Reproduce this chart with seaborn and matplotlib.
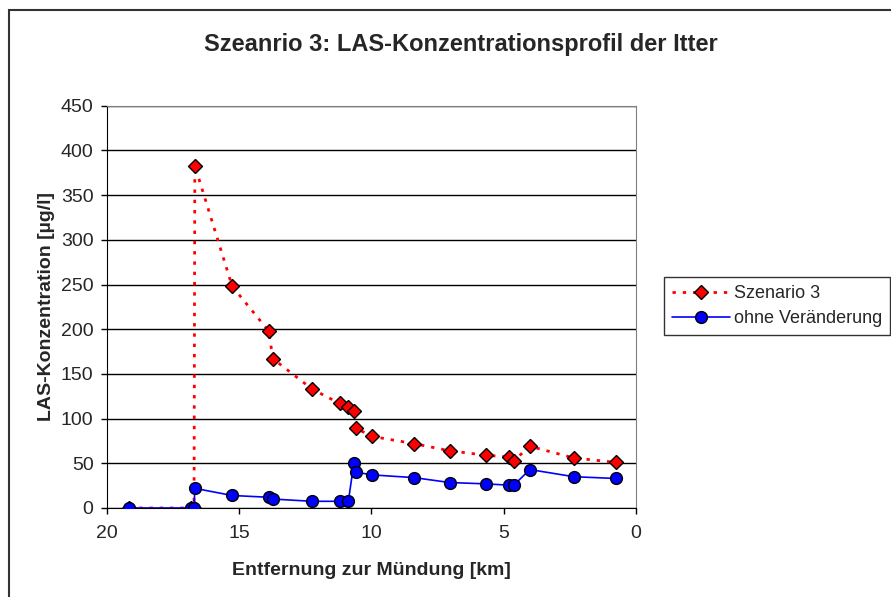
import numpy as np
import pandas as pd
import matplotlib
matplotlib.use("Agg")
import matplotlib.pyplot as plt
import seaborn as sns
from matplotlib.patches import Rectangle

# distance to river mouth [km], shared by both series
entfernung = [19.16, 16.83, 16.70, 16.67, 15.26, 13.88, 13.72, 12.24, 11.20, 10.87,
              10.66, 10.57, 9.96, 8.39, 7.04, 5.67, 4.78, 4.62, 4.01, 2.35, 0.75]
szenario3 = [0, 0, 0, 383, 248, 198, 167, 133, 117, 113,
             109, 89, 80, 72, 64, 59, 57, 53, 69, 56, 51]
ohne_veraenderung = [0, 0, 0, 22, 14, 12, 10, 7.5, 7.5, 7.5,
                     50, 40, 37, 34, 28.5, 27, 25.5, 25.5, 43, 35, 33]

df = pd.DataFrame({
    "km": entfernung * 2,
    "conc": szenario3 + ohne_veraenderung,
    "serie": ["Szenario 3"] * len(entfernung) + ["ohne Veränderung"] * len(entfernung),
})

sns.set_style("white")
plt.rcParams["font.family"] = ["Liberation Sans", "DejaVu Sans"]

fig = plt.figure(figsize=(8.91, 5.97), dpi=100)
ax = fig.add_axes([106.7 / 891, 1 - 508 / 597, (636 - 106.7) / 891, (508 - 105.7) / 597])

# outer chart border
fig.patches.append(Rectangle((9 / 891, -0.05), 1.0, 1 - 10 / 597 + 0.05, transform=fig.transFigure,
                             fill=False, edgecolor="#333333", linewidth=1.5))

sns.lineplot(data=df[df.serie == "Szenario 3"], x="km", y="conc", ax=ax, sort=False,
             color="red", linestyle=(0, (1.2, 2.5)), linewidth=2, marker="D", markersize=7.5,
             markerfacecolor="red", markeredgecolor="black", markeredgewidth=1,
             label="Szenario 3", zorder=3)
sns.lineplot(data=df[df.serie == "ohne Veränderung"], x="km", y="conc", ax=ax, sort=False,
             color="blue", linewidth=1.2, marker="o", markersize=8.5,
             markerfacecolor="blue", markeredgecolor="black", markeredgewidth=1,
             label="ohne Veränderung", zorder=4)

ax.set_xlim(20, 0)
ax.set_ylim(0, 450)
ax.set_xticks([20, 15, 10, 5, 0])
ax.set_yticks(np.arange(0, 451, 50))
ax.yaxis.grid(True, color="black", linewidth=1)
ax.set_axisbelow(True)
for s in ["top", "right"]:
    ax.spines[s].set_color("#808080")
for s in ["left", "bottom"]:
    ax.spines[s].set_color("black")
ax.tick_params(axis="both", direction="out", length=4.5, width=1, color="black",
               labelsize=14, pad=5, bottom=True, left=True)
ax.tick_params(axis="x", pad=8)

ax.set_xlabel("Entfernung zur Mündung [km]", fontsize=14, fontweight="bold", labelpad=14)
ax.set_ylabel("LAS-Konzentration [µg/l]", fontsize=14, fontweight="bold", labelpad=4)
fig.text(461 / 891, 1 - 44 / 597, "Szeanrio 3: LAS-Konzentrationsprofil der Itter",
         ha="center", va="center", fontsize=17, fontweight="bold")

leg = ax.legend(loc="center left", bbox_to_anchor=(664 / 891, 1 - 306 / 597),
                bbox_transform=fig.transFigure, frameon=True, fancybox=False,
                fontsize=13, handlelength=3.2, borderpad=0.45, labelspacing=0.45,
                handletextpad=0.2, borderaxespad=0)
leg.get_frame().set_edgecolor("black")
leg.get_frame().set_linewidth(1)

fig.savefig("out.png", dpi=100)
